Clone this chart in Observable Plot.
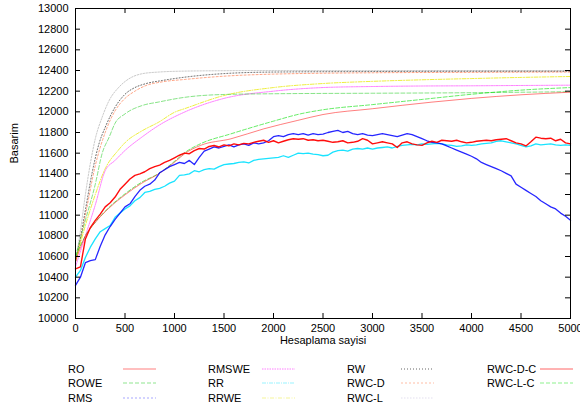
<!DOCTYPE html>
<html>
<head>
<meta charset="utf-8">
<script src="https://cdn.jsdelivr.net/npm/d3@7"></script>
<script src="https://cdn.jsdelivr.net/npm/@observablehq/plot@0.6"></script>
<style>
  html, body { margin: 0; padding: 0; background: #fff; }
  #chart { width: 580px; font-family: "Liberation Sans", Arial, sans-serif; }
  #legend { position: relative; width: 580px; height: 47px; font-size: 11px; color: #000; }
  #legend .lbl { position: absolute; line-height: 12px; white-space: nowrap; }
  #legend svg { position: absolute; overflow: visible; }
</style>
</head>
<body>
<div id="chart"></div>
<script>
// ---------------- axis ticks ----------------
const xTicks = [0, 500, 1000, 1500, 2000, 2500, 3000, 3500, 4000, 4500, 5000];
const yTicks = [10000, 10200, 10400, 10600, 10800, 11000, 11200, 11400, 11600, 11800, 12000, 12200, 12400, 12600, 12800, 13000];
const xLabel = "Hesaplama sayisi";
const yLabel = "Basarim";

// ---------------- noisy series (sampled every 50 evaluations) ----------------
const gridX = d3.range(0, 5001, 50);
const RO = [10480,10500,10770,10880,10950,11010,11080,11120,11175,11250,11300,11350,11385,11400,11420,11450,11470,11485,11510,11530,
  11555,11580,11600,11595,11625,11645,11640,11665,11674,11660,11680,11670,11690,11680,11695,11690,11705,11715,11725,11705,
  11720,11700,11715,11730,11740,11735,11740,11725,11730,11720,11725,11715,11705,11710,11720,11700,11705,11715,11740,11725,
  11690,11700,11710,11700,11690,11655,11700,11710,11690,11680,11675,11700,11715,11705,11725,11720,11715,11725,11710,11700,
  11705,11715,11720,11725,11720,11730,11735,11740,11720,11700,11690,11670,11710,11755,11745,11740,11745,11720,11735,11700,11690];
const RMS = [10320,10400,10540,10560,10570,10700,10810,10890,10960,11020,11080,11110,11180,11240,11280,11300,11340,11410,11440,11470,
  11490,11510,11500,11530,11490,11560,11620,11640,11660,11650,11665,11680,11660,11680,11690,11675,11700,11690,11700,11720,
  11760,11770,11760,11780,11790,11780,11790,11775,11790,11780,11785,11800,11810,11820,11800,11810,11790,11780,11790,11775,
  11770,11780,11790,11780,11770,11760,11775,11790,11780,11760,11740,11720,11705,11700,11690,11670,11650,11630,11610,11590,
  11570,11545,11510,11490,11470,11450,11430,11405,11380,11300,11270,11240,11210,11180,11140,11110,11080,11060,11020,10990,10950];
const RR = [10400,10465,10590,10690,10770,10840,10870,10900,10980,11020,11060,11090,11140,11170,11220,11230,11250,11260,11280,11310,
  11330,11385,11390,11400,11430,11420,11440,11450,11445,11470,11490,11495,11500,11510,11515,11505,11530,11540,11545,11550,
  11555,11560,11575,11560,11580,11600,11595,11600,11590,11585,11575,11580,11610,11625,11630,11620,11640,11645,11640,11650,
  11640,11650,11655,11660,11650,11665,11675,11680,11685,11680,11690,11685,11690,11695,11690,11680,11675,11665,11670,11680,
  11675,11680,11690,11695,11700,11715,11720,11710,11700,11690,11675,11660,11670,11690,11680,11685,11690,11680,11675,11680,11675];

// ---------------- smooth series (read at knots) ----------------
const ROWE_x  = [0,100,200,270,340,400,500,670,840,1100,1500,2000,3000,4000,5000];
const ROWE    = [10600,10950,11300,11600,11755,11890,11980,12060,12095,12140,12168,12175,12180,12185,12195];
const RMSWE_x = [0,100,200,300,400,500,670,840,1100,1500,2000,2500,3000,3500,4000,4500,5000];
const RMSWE   = [10500,10800,11100,11430,11530,11626,11755,11868,11997,12130,12200,12235,12245,12250,12252,12255,12258];
const RRWE_x  = [0,100,200,300,430,505,670,840,1010,1100,1500,2000,2500,3000,3500,4000,4500,5000];
const RRWE    = [10550,10900,11200,11450,11626,11706,11815,11900,12000,12030,12158,12235,12274,12295,12310,12322,12333,12342];
const RW_x    = [0,50,100,170,240,300,400,500,600,700,875,1100,1500,2000,3000,4000,5000];
const RW      = [10550,10780,11050,11420,11700,11850,12045,12170,12235,12270,12303,12335,12370,12385,12390,12392,12392];
const RWCD_x  = [0,50,100,200,300,400,500,600,700,875,1100,1500,2000,3000,4000,5000];
const RWCD    = [10550,10760,11000,11480,11800,12010,12130,12200,12250,12290,12313,12345,12365,12378,12382,12385];
const RWCL_x  = [0,50,100,150,200,270,340,440,540,670,840,1100,1500,2000,3000,4000,5000];
const RWCL    = [10550,10850,11200,11500,11740,11950,12110,12240,12320,12368,12385,12394,12398,12400,12400,12400,12400];
const RWCDC_x = [0,100,200,340,505,670,840,1010,1110,1260,1570,1900,2240,2500,3000,3600,4000,4500,5000];
const RWCDC   = [10550,10800,10930,11070,11200,11310,11400,11520,11600,11674,11739,11835,11916,11974,12030,12094,12130,12165,12190];
const RWCLC_x = [0,100,200,340,505,670,840,1010,1110,1260,1570,2000,2270,2500,3000,3500,4000,4500,5000];
const RWCLC   = [10600,10800,10932,11077,11210,11320,11403,11529,11610,11690,11787,11910,11980,12020,12070,12120,12170,12210,12235];

// ---------------- series definitions (legend order) ----------------
const seriesNames = ["RO","ROWE","RMS","RMSWE","RR","RRWE","RW","RWC-D","RWC-L","RWC-D-C","RWC-L-C"];
const seriesDefs = {
  "RO":      {xs: gridX,   ys: RO,    color: "#ff0000", dash: null,       w: 1.4, op: 0.95, curve: "linear",    legOp: 0.5},
  "ROWE":    {xs: ROWE_x,  ys: ROWE,  color: "#22cc22", dash: "4,2",      w: 1,   op: 0.55, curve: "monotone-x", legOp: 0.5},
  "RMS":     {xs: gridX,   ys: RMS,   color: "#0000ff", dash: null,       w: 1.3, op: 0.85, curve: "linear",    legOp: 0.35, legDash: "2,2"},
  "RMSWE":   {xs: RMSWE_x, ys: RMSWE, color: "#ff00ff", dash: "1.5,1",    w: 1,   op: 0.5,  curve: "monotone-x", legOp: 0.5},
  "RR":      {xs: gridX,   ys: RR,    color: "#00e0ff", dash: null,       w: 1.3, op: 0.9,  curve: "linear",    legOp: 0.4, legDash: "4,1,1,1"},
  "RRWE":    {xs: RRWE_x,  ys: RRWE,  color: "#e8e800", dash: "4,1.5,1,1.5", w: 1, op: 0.75, curve: "monotone-x", legOp: 0.4},
  "RW":      {xs: RW_x,    ys: RW,    color: "#000000", dash: "1,2",      w: 1,   op: 0.6,  curve: "monotone-x", legOp: 0.6},
  "RWC-D":   {xs: RWCD_x,  ys: RWCD,  color: "#ff5a20", dash: "2,2",      w: 1,   op: 0.55, curve: "monotone-x", legOp: 0.4},
  "RWC-L":   {xs: RWCL_x,  ys: RWCL,  color: "#909090", dash: "1.5,1.5",  w: 1,   op: 0.5,  curve: "monotone-x", legOp: 0.35, legColor: "#b0a0d0"},
  "RWC-D-C": {xs: RWCDC_x, ys: RWCDC, color: "#ff0000", dash: null,       w: 1,   op: 0.5,  curve: "monotone-x", legOp: 0.6},
  "RWC-L-C": {xs: RWCLC_x, ys: RWCLC, color: "#00e000", dash: "4,2",      w: 1,   op: 0.6,  curve: "monotone-x", legOp: 0.45}
};
const drawOrder = ["RWC-L","RW","RWC-D","RRWE","RMSWE","ROWE","RWC-L-C","RWC-D-C","RR","RMS","RO"];

function rowsOf(name) {
  const s = seriesDefs[name];
  return s.xs.map((x, i) => ({series: name, x, y: s.ys[i]}));
}

const W = 580, H = 360, mL = 75, mR = 10, mT = 8, mB = 42;
const innerW = W - mL - mR, innerH = H - mT - mB;

const marks = [];
for (const name of drawOrder) {
  const s = seriesDefs[name];
  marks.push(Plot.line(rowsOf(name), {
    x: "x", y: "y", stroke: s.color, strokeWidth: s.w, strokeOpacity: s.op,
    strokeDasharray: s.dash || undefined, curve: s.curve
  }));
}

const chart = Plot.plot({
  width: W, height: H,
  marginLeft: mL, marginRight: mR, marginTop: mT, marginBottom: mB,
  style: {fontFamily: "'Liberation Sans', Arial, sans-serif", fontSize: "11px", background: "#fff", color: "#000", overflow: "hidden"},
  x: {domain: [0, 5000], label: null},
  y: {domain: [10000, 13000], label: null},
  marks: [
    ...marks,
    Plot.frame({stroke: "#000", strokeWidth: 1}),
    Plot.tickY(yTicks, {y: d => d, insetRight: innerW - 5, stroke: "#000"}),
    Plot.tickY(yTicks, {y: d => d, insetLeft: innerW - 5, stroke: "#000"}),
    Plot.tickX(xTicks, {x: d => d, insetTop: innerH - 5, stroke: "#000"}),
    Plot.tickX(xTicks, {x: d => d, insetBottom: innerH - 5, stroke: "#000"}),
    Plot.axisY({ticks: yTicks, tickSize: 0, tickPadding: 7, tickFormat: d3.format("d"), label: null}),
    Plot.axisX({ticks: xTicks, tickSize: 0, tickPadding: 6, tickFormat: d3.format("d"), label: null}),
    Plot.text([xLabel], {text: d => d, frameAnchor: "bottom", dy: 25, fontSize: 11}),
    Plot.text([yLabel], {text: d => d, frameAnchor: "left", rotate: -90, dx: -61, fontSize: 11})
  ]
});
document.getElementById("chart").appendChild(chart);

// ---------------- legend (below the plot) ----------------
const legend = document.createElement("div");
legend.id = "legend";
const colText = [68, 208, 347, 487];
const colLine = [123, 262, 401, 540];
const rowY = [9, 23, 38];
seriesNames.forEach((name, i) => {
  const col = Math.floor(i / 3), row = i % 3;
  const s = seriesDefs[name];
  const lbl = document.createElement("div");
  lbl.className = "lbl";
  lbl.textContent = name;
  lbl.style.left = colText[col] + "px";
  lbl.style.top = (rowY[row] - 6) + "px";
  legend.appendChild(lbl);
  const ns = "http://www.w3.org/2000/svg";
  const svg = document.createElementNS(ns, "svg");
  svg.setAttribute("width", 33); svg.setAttribute("height", 4);
  svg.style.left = colLine[col] + "px";
  svg.style.top = (rowY[row] - 2) + "px";
  const ln = document.createElementNS(ns, "line");
  ln.setAttribute("x1", 0); ln.setAttribute("x2", 33);
  ln.setAttribute("y1", 2); ln.setAttribute("y2", 2);
  ln.setAttribute("stroke", s.legColor || s.color);
  ln.setAttribute("stroke-opacity", s.legOp);
  ln.setAttribute("stroke-width", 1);
  const dash = s.legDash || s.dash;
  if (dash) ln.setAttribute("stroke-dasharray", dash);
  svg.appendChild(ln);
  legend.appendChild(svg);
});
document.getElementById("chart").appendChild(legend);
</script>
</body>
</html>
